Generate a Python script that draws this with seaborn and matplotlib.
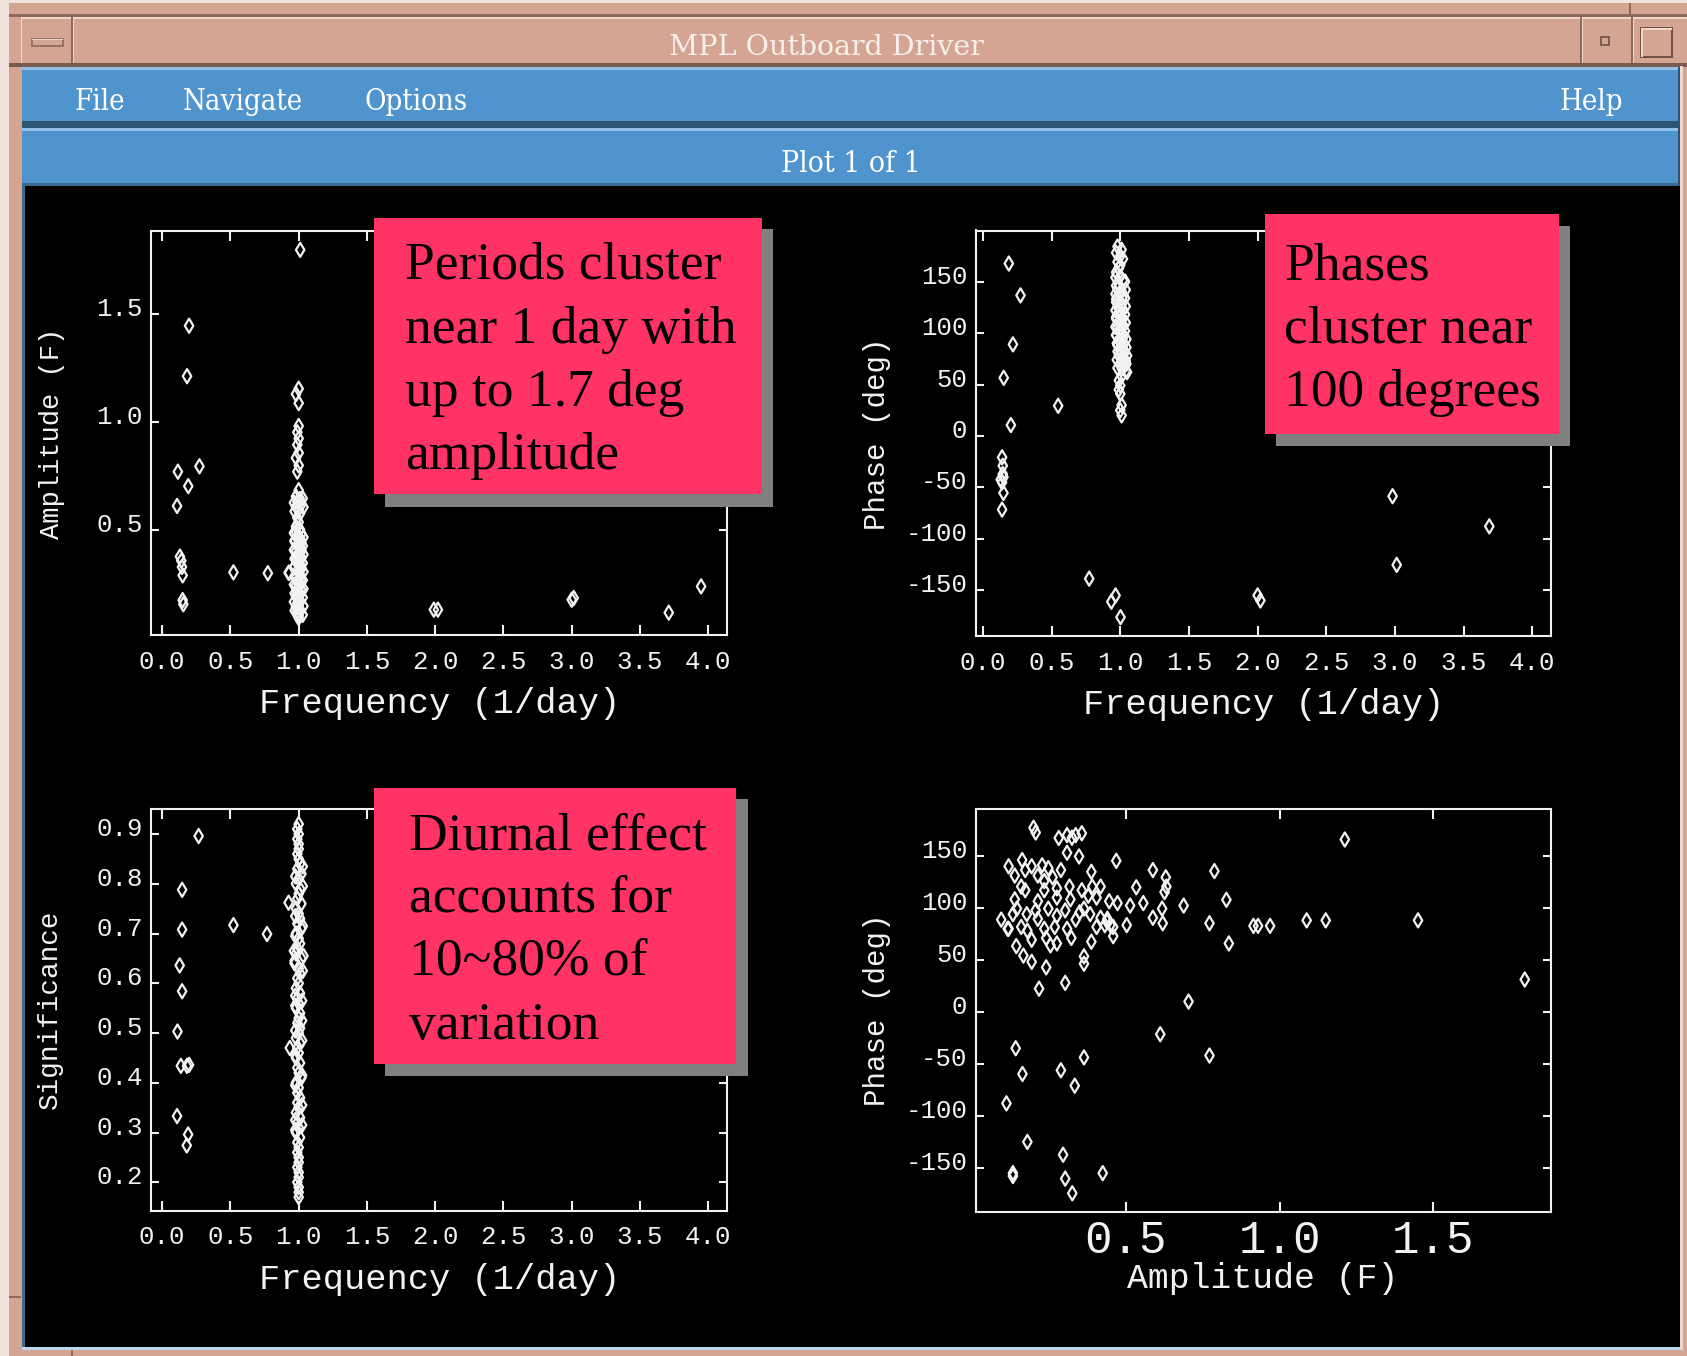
import numpy as np
import pandas as pd
import matplotlib
matplotlib.use("Agg")
import matplotlib.pyplot as plt
from matplotlib.patches import Rectangle
from matplotlib.transforms import ScaledTranslation
import seaborn as sns

# ---------------------------------------------------------------- data
# Panel 1: frequency (1/day) vs amplitude (F)
p1_freq = [1.011, 0.197, 0.182, 0.115, 0.273, 0.191, 0.109, 0.130, 0.140, 0.145,
           0.150, 0.150, 0.155, 0.522, 0.774, 0.926, 1.990, 2.020, 3.000, 3.015,
           3.711, 3.948,
           1.00, 0.98, 1.00, 1.00, 0.99, 1.00, 0.99, 1.00, 0.98, 1.00, 0.99, 1.00,
           0.98, 1.01, 0.99, 1.02, 0.98, 1.00, 1.01, 0.99, 1.00, 0.98,
           1.01, 0.98, 1.02, 0.99, 1.01, 0.97, 1.02, 0.99, 1.00, 1.02,
           0.98, 1.01, 0.99, 1.02, 0.98, 1.00, 1.01, 0.97, 1.02, 0.99,
           0.93, 1.01, 0.98, 1.02, 0.99, 1.01, 0.98, 1.00, 1.02, 0.99,
           1.01, 0.98, 1.00, 1.01, 0.99, 1.00, 0.98, 1.01, 0.99, 1.00,
           1.00, 1.00,
           1.03, 0.965, 1.035, 0.97, 0.965, 1.035, 0.97, 1.03, 0.965, 1.035,
           0.97, 1.03, 0.965, 1.035, 0.97, 1.03, 0.965, 1.035, 0.97, 1.03,
           0.965, 1.035, 0.97, 1.03]
p1_amp = [1.798, 1.446, 1.212, 0.769, 0.794, 0.702, 0.610, 0.375, 0.356, 0.327,
          0.288, 0.173, 0.154, 0.302, 0.298, 0.300, 0.129, 0.129, 0.175, 0.183,
          0.115, 0.237,
          1.154, 1.129, 1.087, 0.981, 0.952, 0.923, 0.894, 0.856, 0.833, 0.798, 0.769, 0.683,
          0.654, 0.642, 0.630, 0.618, 0.606, 0.594, 0.575, 0.555, 0.535, 0.515,
          0.500, 0.490, 0.480, 0.470, 0.460, 0.450, 0.440, 0.430, 0.420, 0.410,
          0.400, 0.390, 0.380, 0.370, 0.360, 0.350, 0.340, 0.330, 0.320, 0.310,
          0.300, 0.290, 0.280, 0.270, 0.260, 0.250, 0.240, 0.230, 0.220, 0.210,
          0.200, 0.190, 0.180, 0.170, 0.160, 0.150, 0.140, 0.130, 0.120, 0.110,
          0.100, 0.090,
          0.645, 0.625, 0.605, 0.585, 0.485, 0.465, 0.445, 0.425, 0.405, 0.385,
          0.365, 0.345, 0.325, 0.305, 0.285, 0.265, 0.245, 0.225, 0.205, 0.185,
          0.165, 0.145, 0.125, 0.105]

# Panel 2: frequency (1/day) vs phase (deg)
p2_freq = [0.189, 0.274, 0.219, 0.152, 0.548, 0.204, 0.140, 0.145, 0.145, 0.130,
           0.140, 0.150, 0.150, 0.140, 0.774, 0.966, 0.935, 1.002, 2.000, 2.020,
           2.982, 3.012, 3.686,
           0.98, 1.01, 0.97, 1.00, 1.02, 0.98, 1.00, 0.99,
           0.97, 1.00, 1.02, 0.99,
           0.98, 1.01, 0.99, 1.02, 0.97, 1.00, 1.01, 0.98, 1.02, 0.99,
           1.00, 0.97, 1.01, 0.99, 1.02, 0.98, 1.00, 1.01, 0.97, 1.02,
           0.99, 1.01, 0.98, 1.02, 1.00, 1.03, 0.99, 1.02, 1.04, 1.00,
           1.03, 1.01, 1.04,
           1.01, 0.99, 1.00, 0.99, 1.00, 1.01, 1.00, 1.01,
           0.965, 1.035, 0.97, 1.04, 0.965, 1.035, 0.97, 1.04, 0.965, 1.035,
           0.97, 1.04, 0.965, 1.035, 0.97, 1.045, 0.975, 1.045, 0.98, 1.05,
           0.975, 1.045, 0.98, 1.05]
p2_phase = [167.5, 136.6, 89.0, 56.5, 29.3, 10.6, -20.7, -28.9, -37.0, -42.3,
            -45.0, -40.0, -55.3, -71.5, -138.6, -154.9, -161.0, -176.0, -154.9, -159.8,
            -58.5, -125.2, -87.8,
            184.0, 181.0, 178.0, 175.0, 172.0, 169.0, 166.0, 163.0,
            159.0, 155.0, 151.0, 147.0,
            143.0, 140.5, 138.0, 135.5, 133.0, 130.5, 128.0, 125.5, 123.0, 120.5,
            118.0, 115.5, 113.0, 110.5, 108.0, 105.5, 103.0, 100.5, 98.0, 95.5,
            93.0, 90.5, 88.0, 85.5, 83.0, 80.5, 78.0, 75.5, 73.0, 70.5,
            68.0, 65.5, 63.0,
            58.0, 54.0, 49.0, 45.0, 41.0, 30.0, 25.0, 20.0,
            154.0, 150.0, 146.0, 142.0, 138.0, 134.0, 130.0, 126.0, 122.0, 118.0,
            114.0, 110.0, 106.0, 102.0, 98.0, 94.0, 90.0, 86.0, 82.0, 78.0,
            74.0, 70.0, 66.0, 62.0]

# Panel 3: frequency (1/day) vs significance
p3_freq = [0.267, 0.146, 0.146, 0.522, 0.768, 0.128, 0.146, 0.112, 0.137, 0.182,
           0.197, 0.109, 0.190, 0.180, 0.926, 0.935,
           1.00, 0.99, 1.00, 0.99, 1.00, 1.00, 0.99, 1.00, 1.01, 0.99,
           1.02, 1.00, 0.98, 1.01, 1.00, 0.99, 1.02, 0.98, 1.00, 1.01,
           0.99, 1.02, 0.98, 1.00, 1.01, 0.99, 0.98, 1.02, 0.97, 1.00,
           1.01, 0.99, 1.00, 0.98, 1.01, 0.99, 1.00, 0.98, 1.01, 1.00,
           0.99, 1.01, 1.00, 0.98, 1.01, 0.99, 1.00, 0.98, 1.01, 0.99,
           1.00, 1.02, 0.98, 1.00, 0.99, 1.01, 0.99, 1.00, 0.98, 1.01,
           0.99, 1.00, 0.98, 1.01, 0.99, 1.00, 0.99, 1.00, 1.00, 0.99,
           1.00, 1.00, 0.99, 1.00, 1.00, 1.00,
           1.03, 0.975, 1.03, 0.975, 1.03, 0.975, 0.965, 1.035, 0.97, 1.03,
           0.975, 1.025, 0.975, 1.025, 0.975, 1.025, 0.975, 1.025, 0.975, 1.025,
           0.975, 1.025, 0.975]
p3_sig = [0.896, 0.788, 0.708, 0.717, 0.699, 0.636, 0.584, 0.503, 0.434, 0.434,
          0.436, 0.333, 0.296, 0.274, 0.762, 0.470,
          0.92, 0.91, 0.90, 0.89, 0.88, 0.87, 0.86, 0.85, 0.84, 0.83,
          0.82, 0.81, 0.80, 0.79, 0.78, 0.77, 0.76, 0.75, 0.74, 0.73,
          0.72, 0.71, 0.70, 0.69, 0.68, 0.67, 0.66, 0.65, 0.64, 0.63,
          0.62, 0.61, 0.60, 0.59, 0.58, 0.57, 0.56, 0.55, 0.54, 0.53,
          0.52, 0.51, 0.50, 0.49, 0.48, 0.47, 0.46, 0.45, 0.44, 0.43,
          0.42, 0.41, 0.40, 0.39, 0.38, 0.37, 0.36, 0.35, 0.34, 0.33,
          0.32, 0.31, 0.30, 0.29, 0.28, 0.27, 0.26, 0.25, 0.24, 0.23,
          0.22, 0.21, 0.20, 0.19, 0.18, 0.17,
          0.835, 0.815, 0.795, 0.735, 0.715, 0.695, 0.665, 0.655, 0.645, 0.625,
          0.575, 0.565, 0.555, 0.525, 0.505, 0.485, 0.455, 0.415, 0.395, 0.355,
          0.325, 0.315, 0.305]

# Panel 4: amplitude (F) vs phase (deg)
p4_amp = [1.212, 1.797, 1.450, 1.150, 1.088, 0.915, 0.930, 0.969, 0.788, 0.827,
          0.772, 0.835, 0.704, 0.612, 0.772, 0.688, 0.618, 0.588, 0.630, 0.632,
          0.626, 0.620, 0.588, 0.557, 0.534, 0.514, 0.503, 0.469, 0.459, 0.459,
          0.388, 0.364, 0.364, 0.303, 0.218, 0.241, 0.194, 0.167, 0.144, 0.116,
          0.095, 0.200, 0.207, 0.282, 0.309, 0.325, 0.337, 0.357, 0.309, 0.348,
          0.388,
          0.142, 0.164, 0.289, 0.334, 0.364, 0.112, 0.180, 0.296, 0.133, 0.133,
          0.303, 0.326, 0.425,
          0.119, 0.163, 0.139, 0.173, 0.194, 0.228, 0.248, 0.289, 0.214, 0.235,
          0.262, 0.160, 0.173, 0.235, 0.276, 0.317, 0.357, 0.391, 0.418, 0.378,
          0.405, 0.139, 0.214, 0.276, 0.320, 0.446, 0.473, 0.146, 0.207, 0.248,
          0.303, 0.350, 0.133, 0.178, 0.214, 0.276, 0.337, 0.384, 0.418, 0.439,
          0.119, 0.160, 0.180, 0.235, 0.269, 0.309, 0.405, 0.432, 0.194, 0.241,
          0.255, 0.276, 0.323, 0.364, 0.450, 0.440]
p4_phase = [166.3, 31.6, 88.5, 88.5, 88.5, 83.2, 83.2, 83.2, 135.9, 108.3,
            85.7, 66.3, 10.4, -21.0, -41.5, 102.7, 99.8, 136.9, 129.9, 121.0,
            115.7, 85.7, 91.0, 105.1, 120.3, 102.7, 83.9, 145.8, 82.2, 73.3,
            68.0, 53.9, 46.8, 28.4, 22.8, 43.3, 48.6, 54.6, 63.8, 80.4,
            89.2, 177.6, 173.0, 167.7, 170.5, 168.0, 170.5, 172.3, 153.5, 150.0,
            135.2,
            -34.5, -59.2, -55.7, -70.5, -43.3, -87.5, -124.6, -136.9, -154.6, -157.4,
            -159.9, -174.0, -154.6,
            140.5, 146.5, 131.6, 136.9, 140.5, 141.5, 138.7, 136.9, 131.6, 126.3,
            129.9, 121.0, 117.5, 117.5, 119.3, 121.0, 117.5, 121.0, 121.0, 112.2,
            110.4, 108.7, 106.9, 110.4, 108.7, 106.9, 105.1, 99.8, 98.1, 99.8,
            98.1, 96.3, 94.5, 94.5, 89.9, 92.8, 89.2, 94.5, 91.0, 87.5,
            80.4, 82.2, 78.6, 80.4, 82.2, 80.4, 82.2, 83.9, 69.8, 71.6,
            64.5, 66.3, 71.6, 99.8, 84.0, 90.0]

freq_ticks = [0.0, 0.5, 1.0, 1.5, 2.0, 2.5, 3.0, 3.5, 4.0]
freq_labels = ["0.0", "0.5", "1.0", "1.5", "2.0", "2.5", "3.0", "3.5", "4.0"]
amp_ticks = [0.5, 1.0, 1.5]
amp_labels = ["0.5", "1.0", "1.5"]
phase_ticks = [-150, -100, -50, 0, 50, 100, 150]
phase_labels = ["-150", "-100", "-50", "0", "50", "100", "150"]
sig_ticks = [0.2, 0.3, 0.4, 0.5, 0.6, 0.7, 0.8, 0.9]
sig_labels = ["0.2", "0.3", "0.4", "0.5", "0.6", "0.7", "0.8", "0.9"]

notes = {
    "p1": ["Periods cluster", "near 1 day with", "up to 1.7 deg", "amplitude"],
    "p2": ["Phases", "cluster near", "100 degrees"],
    "p3": ["Diurnal effect", "accounts for", "10~80% of", "variation"],
}

# ---------------------------------------------------------------- style
sns.set_theme(style="ticks")
plt.rcParams["font.family"] = ["Liberation Mono", "DejaVu Sans Mono"]
plt.rcParams["axes.grid"] = False

FG = "#f2f2f2"
SALMON = "#d4a592"
SALMON_LT = "#efd6ca"
SALMON_DK = "#8c6a5d"
BLUE = "#4f94cd"
BLUE_LT = "#93c0e8"
BLUE_DK = "#2c5475"
PINK = "#ff3366"
SHADOW = "#808080"
SERIF = ["DejaVu Serif"]
TIMES = ["Liberation Serif", "DejaVu Serif"]

W, H = 1687, 1356
fig = plt.figure(figsize=(W / 100, H / 100), dpi=100, facecolor="#f0e1da")


def px_axes(zorder):
    a = fig.add_axes([0, 0, 1, 1], zorder=zorder)
    a.set_xlim(0, W)
    a.set_ylim(H, 0)
    a.axis("off")
    a.patch.set_alpha(0)
    return a


def box(a, x0, y0, x1, y1, color, z=1, **kw):
    a.add_patch(Rectangle((x0, y0), x1 - x0, y1 - y0, facecolor=color,
                          edgecolor=kw.pop("ec", "none"), zorder=z, **kw))


# ---------------------------------------------------------------- window chrome
bg = px_axes(0)
box(bg, 9, 3, W, H, SALMON)
box(bg, 9, 14, W, 16.5, SALMON_DK)
box(bg, 21, 16.5, W, 18.5, SALMON_LT)
box(bg, 9, 63, W, 66.5, "#7a5a4e")
# title bar button separators
for xs in (71, 1580, 1631):
    box(bg, xs, 17, xs + 1.6, 63, SALMON_DK, z=2)
    box(bg, xs + 1.6, 17, xs + 3.2, 63, SALMON_LT, z=2)
box(bg, 21, 17, 22.5, 63, SALMON_LT, z=2)
# window-menu button icon
box(bg, 32, 38.5, 63, 45.5, SALMON, z=3, ec=SALMON_DK, linewidth=1.2)
box(bg, 32, 38.5, 63, 40, SALMON_LT, z=4)
# minimise / maximise icons
box(bg, 1601, 37, 1609, 45, SALMON, z=3, ec="#6e5044", linewidth=1.2)
box(bg, 1641, 28, 1672, 57, SALMON, z=3, ec="#6e5044", linewidth=1.4)
box(bg, 1641, 28, 1672, 30, SALMON_LT, z=4)
box(bg, 1641, 28, 1643, 57, SALMON_LT, z=4)
# frame notches
box(bg, 9, 1296, 21, 1298, SALMON_DK, z=2)
box(bg, 71, 1350, 73, H, SALMON_DK, z=2)
box(bg, 1629, 3, 1631, 14, SALMON_DK, z=2)

# menu bar and plot selector bar
box(bg, 22, 67, 1680, 124, BLUE)
box(bg, 22, 67, 1680, 69.5, BLUE_LT, z=2)
box(bg, 22, 121, 1680, 127.5, BLUE_DK, z=2)
box(bg, 22, 128, 1680, 185, BLUE)
box(bg, 22, 128, 1680, 130.5, BLUE_LT, z=2)
box(bg, 22, 182.5, 1680, 186, "#3b6a92", z=2)
box(bg, 1678, 67, 1681, 186, BLUE_DK, z=2)
# drawing area
box(bg, 22, 186, 1680, 1348, "black")
box(bg, 22, 186, 25, 1348, "#3c6a93", z=2)
box(bg, 22, 1346.5, 1680, 1350, "#bcd6ec", z=2)
box(bg, 1680, 66, 1683, 1350, SALMON_LT, z=2)

bg.text(826, 55, "MPL Outboard Driver", ha="center", va="baseline",
        color="#f7efea", fontsize=20.5, family=SERIF)
for label, x in (("File", 75), ("Navigate", 183), ("Options", 365), ("Help", 1560)):
    bg.text(x, 110, label, ha="left", va="baseline", color="white",
            fontsize=21, family=SERIF, fontstretch="condensed")
bg.text(851, 171.5, "Plot 1 of 1", ha="center", va="baseline", color="white",
        fontsize=21.5, family=SERIF, fontstretch="condensed")

# ---------------------------------------------------------------- panels
def make_axes(left, top, right, bottom):
    return fig.add_axes([left / W, 1 - bottom / H, (right - left) / W,
                         (bottom - top) / H], zorder=5)


def scatter(ax, x, y, xname, yname):
    df = pd.DataFrame({xname: x, yname: y})
    sns.scatterplot(data=df, x=xname, y=yname, ax=ax, marker="d", s=52,
                    facecolors="none", edgecolor=FG, linewidth=1.6,
                    legend=False, zorder=3)


def style(ax, xlim, ylim, xt, xtl, yt, ytl, xlabel, ylabel, xlab_size,
          ylab_size, xlab_y, ylab_x, xtick_size=18.5, xpad=10.5):
    ax.set_facecolor("none")
    ax.set_xlim(*xlim)
    ax.set_ylim(*ylim)
    ax.set_xticks(xt, labels=xtl)
    ax.set_yticks(yt, labels=ytl)
    for sp in ax.spines.values():
        sp.set_visible(True)
        sp.set_color(FG)
        sp.set_linewidth(1.5)
    ax.tick_params(axis="x", which="major", direction="in", length=7, width=1.5,
                   color=FG, top=True, bottom=True, labelcolor=FG,
                   labelsize=xtick_size, pad=xpad)
    ax.tick_params(axis="y", which="major", direction="in", length=5.5, width=1.5,
                   color=FG, left=True, right=True, labelcolor=FG,
                   labelsize=18.5, pad=6)
    ax.minorticks_off()
    ax.grid(False)
    ax.set_xlabel(xlabel, color=FG, fontsize=xlab_size, va="top")
    ax.xaxis.set_label_coords(0.5, xlab_y)
    ax.set_ylabel(ylabel, color=FG, fontsize=ylab_size)
    ax.yaxis.set_label_coords(ylab_x, 0.5)
    lift = ScaledTranslation(0, 7.5 / 100, fig.dpi_scale_trans)
    for t in ax.yaxis.get_major_ticks():
        t.label1.set_transform(t.label1.get_transform() + lift)


ax1 = make_axes(151.4, 231.1, 726.9, 635.3)
scatter(ax1, p1_freq, p1_amp, "freq", "amp")
style(ax1, (-0.079, 4.137), (0.010, 1.885), freq_ticks, freq_labels,
      amp_ticks, amp_labels, "Frequency (1/day)", "Amplitude (F)",
      25.5, 19.5, -0.128, -0.150)

ax2 = make_axes(975.7, 230.5, 1550.6, 636.0)
scatter(ax2, p2_freq, p2_phase, "freq", "phase")
style(ax2, (-0.052, 4.132), (-194.3, 199.6), freq_ticks, freq_labels,
      phase_ticks, phase_labels, "Frequency (1/day)", "Phase (deg)",
      25.5, 21, -0.128, -0.147)

ax3 = make_axes(151.4, 808.7, 726.9, 1210.6)
scatter(ax3, p3_freq, p3_sig, "freq", "sig")
style(ax3, (-0.079, 4.137), (0.143, 0.951), freq_ticks, freq_labels,
      sig_ticks, sig_labels, "Frequency (1/day)", "Significance",
      25.5, 20, -0.130, -0.154)

ax4 = make_axes(975.7, 808.7, 1550.6, 1211.7)
scatter(ax4, p4_amp, p4_phase, "amp", "phase")
style(ax4, (0.012, 1.881), (-191.7, 195.9), amp_ticks, amp_labels,
      phase_ticks, phase_labels, "Amplitude (F)", "Phase (deg)",
      25, 21, -0.125, -0.147, xtick_size=33, xpad=5)

# ---------------------------------------------------------------- callouts
ov = px_axes(10)


def callout(x0, y0, x1, y1, lines, tx, baselines):
    box(ov, x0 + 11, y0 + 11.5, x1 + 11.5, y1 + 12.5, SHADOW, z=1)
    box(ov, x0, y0, x1, y1, PINK, z=2)
    for line, yb in zip(lines, baselines):
        ov.text(tx, yb, line, ha="left", va="baseline", color="black",
                fontsize=38.5, family=TIMES, zorder=3)


callout(374.5, 217.5, 761.7, 494.0, notes["p1"], 404.7, [278.8, 343.0, 406.0, 469.5])
callout(1265.0, 214.0, 1559.0, 433.5, notes["p2"], 1284.0, [279.5, 342.3, 405.9])
callout(374.5, 787.5, 736.4, 1063.6, notes["p3"], 408.9, [849.0, 911.5, 974.7, 1039.0])

fig.savefig("out.png", dpi=100, facecolor=fig.get_facecolor())
